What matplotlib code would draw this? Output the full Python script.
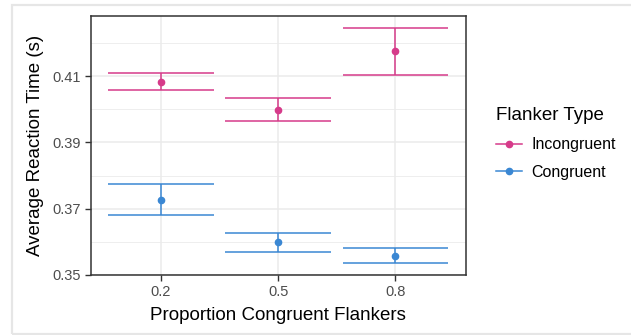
import matplotlib
matplotlib.use("Agg")
import matplotlib.pyplot as plt
from matplotlib.lines import Line2D
from matplotlib.patches import Rectangle

plt.rcParams['font.family'] = ['Liberation Sans', 'DejaVu Sans']

categories = ["0.2", "0.5", "0.8"]
series_names = ["Incongruent", "Congruent"]
incong_mean = [0.4081, 0.3999, 0.4175]
incong_upper = [0.4108, 0.4034, 0.4245]
incong_lower = [0.4058, 0.3965, 0.4104]
cong_mean = [0.3726, 0.3599, 0.3558]
cong_upper = [0.3774, 0.3626, 0.3582]
cong_lower = [0.3680, 0.3570, 0.3536]
y_ticks = [0.35, 0.37, 0.39, 0.41]
y_minor = [0.36, 0.38, 0.40, 0.42]

colors = {"Incongruent": "#D63B8A", "Congruent": "#3A87D3"}

W, H = 631, 335
fig = plt.figure(figsize=(W / 100, H / 100), dpi=100)
ax = fig.add_axes([90.7 / W, 1 - 275 / H, (465.7 - 90.7) / W, (275 - 16) / H])

# outer light frame
fig.patches.append(Rectangle((12 / W, 1 - 334 / H), 1.0, (334 - 5) / H, transform=fig.transFigure,
                             fill=False, edgecolor="#E6E6E6", linewidth=1.6, zorder=0))

xs = list(range(1, len(categories) + 1))
data = [("Incongruent", incong_mean, incong_lower, incong_upper),
        ("Congruent", cong_mean, cong_lower, cong_upper)]

for name, m, lo, hi in data:
    c = colors[name]
    for x, mm, l, h in zip(xs, m, lo, hi):
        ax.vlines(x, l, h, color=c, linewidth=1.1, zorder=3)
        ax.hlines([l, h], x - 0.45, x + 0.45, color=c, linewidth=1.1, zorder=3)
    ax.plot(xs, m, linestyle='none', marker='o', markersize=4.5, color=c, zorder=4)

ax.set_xlim(0.4, 3.6)
ax.set_ylim(0.35, 0.4281)
ax.set_xticks(xs)
ax.set_xticklabels(categories)
ax.set_yticks(y_ticks)
ax.set_yticklabels([f"{v:.2f}" for v in y_ticks])
ax.set_yticks(y_minor, minor=True)
ax.tick_params(axis='y', which='minor', length=0)
ax.grid(True, which='major', color="#EBEBEB", linewidth=1.1, zorder=0)
ax.grid(True, which='minor', axis='y', color="#EBEBEB", linewidth=0.6, zorder=0)
ax.set_axisbelow(True)
for s in ax.spines.values():
    s.set_color("#333333")
    s.set_linewidth(1.1)
ax.tick_params(axis='both', which='major', colors="#333333", labelcolor="#4D4D4D",
               labelsize=10.5, length=4, width=1.0, pad=3)

ax.set_xlabel("Proportion Congruent Flankers", fontsize=13.5, color="black", labelpad=6)
ax.set_ylabel("Average Reaction Time (s)", fontsize=13.5, color="black", labelpad=6)

handles = [Line2D([0], [0], color=colors[n], marker='o', markersize=4.5, linewidth=1.1) for n in series_names]
leg = fig.legend(handles, series_names, title="Flanker Type", loc="upper left",
                 bbox_to_anchor=(482 / W, 1 - 93 / H), frameon=False, fontsize=11.5,
                 title_fontsize=13.5, handlelength=1.6, handletextpad=0.6, labelspacing=0.8)
leg._legend_box.align = "left"

fig.savefig("out.png", dpi=100)
